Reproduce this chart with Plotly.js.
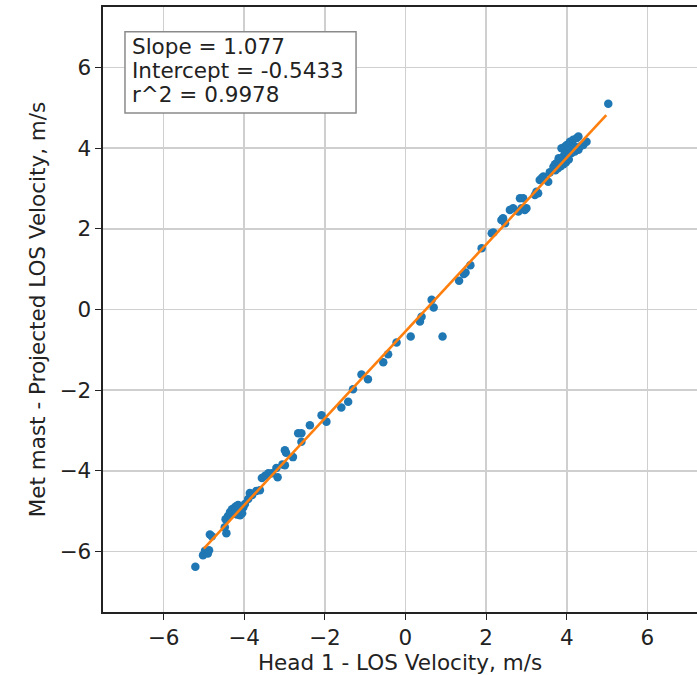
<!DOCTYPE html>
<html>
<head>
<meta charset="utf-8">
<script src="https://cdn.plot.ly/plotly-3.0.1.min.js"></script>
<style>html,body{margin:0;padding:0;background:#fff;overflow:hidden;}#plot{width:697px;height:675px;}</style>
</head>
<body>
<div id="plot"></div>
<script>
// Head 1 LOS velocity (m/s)
const headX = [
  -5.21, -5.02, -4.97, -4.87, -4.90, -4.85, -4.80, -4.46, -4.44, -4.48,
  -4.40, -4.35, -4.30, -4.25, -4.20, -4.15, -4.10, -4.05, -4.18, -4.28,
  -4.22, -4.12, -4.02, -3.98, -3.90, -3.86, -3.80, -3.70, -3.61, -3.56,
  -3.48, -3.40, -3.31, -3.17, -3.20, -3.05, -2.99, -2.99, -2.96, -2.79,
  -2.66, -2.58, -2.58, -2.37, -2.08, -1.96, -1.59, -1.42, -1.30, -1.09,
  -0.93, -0.55, -0.43, -0.22, 0.13, 0.36, 0.40, 0.65, 0.70, 0.92,
  1.33, 1.45, 1.49, 1.61, 1.89, 2.14, 2.18, 2.38, 2.42, 2.47,
  2.59, 2.67, 2.80, 2.88, 2.96, 3.00, 2.84, 2.92, 3.21, 3.25,
  3.29, 3.33, 3.38, 3.42, 3.54, 3.58, 3.67, 3.71, 3.75, 3.83,
  3.87, 3.91, 3.72, 3.78, 3.85, 3.92, 3.98, 4.05, 3.87, 3.96,
  4.00, 4.08, 4.16, 4.25, 4.29, 4.12, 4.20, 4.29, 4.33, 4.41,
  4.49, 3.95, 4.02, 4.10, 4.18, 3.80, 5.03
];
// Met mast projected LOS velocity (m/s)
const mastY = [
  -6.38, -6.09, -5.98, -5.97, -6.05, -5.58, -5.62, -5.20, -5.55, -5.40,
  -5.12, -5.02, -4.95, -4.92, -4.88, -4.85, -5.10, -5.05, -5.08, -5.05,
  -4.98, -4.96, -4.90, -4.82, -4.70, -4.55, -4.60, -4.50, -4.48, -4.18,
  -4.12, -4.06, -4.06, -4.16, -3.93, -3.84, -3.86, -3.49, -3.55, -3.66,
  -3.07, -3.07, -3.28, -2.87, -2.62, -2.78, -2.43, -2.29, -1.98, -1.61,
  -1.73, -1.31, -1.11, -0.82, -0.67, -0.30, -0.18, 0.24, 0.05, -0.67,
  0.71, 0.88, 0.92, 1.10, 1.52, 1.89, 1.91, 2.22, 2.26, 2.14,
  2.47, 2.51, 2.43, 2.51, 2.47, 2.51, 2.76, 2.76, 2.84, 2.92,
  2.88, 3.21, 3.26, 3.30, 3.17, 3.40, 3.54, 3.60, 3.63, 3.67,
  3.71, 3.79, 3.45, 3.50, 3.55, 3.60, 3.65, 3.72, 4.00, 4.04,
  4.08, 4.16, 4.21, 4.25, 4.29, 3.88, 3.92, 3.96, 4.04, 4.08,
  4.16, 3.85, 3.90, 4.00, 4.05, 3.75, 5.10
];
// Linear fit
const slope = 1.077;
const intercept = -0.5433;
const r2 = 0.9978;
const fitX = [-5.0, 4.98];
const fitY = fitX.map(v => slope * v + intercept);
const statLines = ['Slope = ' + slope, 'Intercept = ' + intercept, 'r^2 = ' + r2];

const tickVals = [-6, -4, -2, 0, 2, 4, 6];
const fnt = 'DejaVu Sans, sans-serif';
const fs = 21.5;

const traces = [
  {x: headX, y: mastY, type: 'scatter', mode: 'markers',
   marker: {color: '#1f77b4', size: 8.5}, hoverinfo: 'none'},
  {x: fitX, y: fitY, type: 'scatter', mode: 'lines',
   line: {color: '#ff7f0e', width: 2.6}, hoverinfo: 'none'}
];

const axisBase = {
  tickvals: tickVals,
  ticks: 'outside', ticklen: 6, tickwidth: 1.2, tickcolor: '#222',
  tickfont: {family: fnt, size: fs, color: '#222'},
  showgrid: true, gridcolor: '#cfcfcf', gridwidth: 1.6,
  zeroline: false, showline: true, linecolor: '#222', linewidth: 1.6
};

const lineY = [0.934, 0.895, 0.856];
const annotations = statLines.map((t, i) => ({
  xref: 'paper', yref: 'paper', x: 0.046, y: lineY[i],
  xanchor: 'left', yanchor: 'middle', align: 'left', showarrow: false,
  text: t, font: {family: fnt, size: fs, color: '#222'}
}));

const layout = {
  width: 697, height: 675,
  margin: {l: 103, r: 0, t: 7, b: 63},
  paper_bgcolor: '#fff', plot_bgcolor: '#fff',
  showlegend: false,
  font: {family: fnt, color: '#222'},
  xaxis: Object.assign({}, axisBase, {
    range: [-7.5, 7.23], mirror: true,
    title: {text: 'Head 1 - LOS Velocity, m/s', font: {family: fnt, size: fs, color: '#222'}, standoff: 4}
  }),
  yaxis: Object.assign({}, axisBase, {
    range: [-7.5, 7.5], mirror: false,
    title: {text: 'Met mast - Projected LOS Velocity, m/s', font: {family: fnt, size: fs, color: '#222'}, standoff: 8}
  }),
  shapes: [{
    type: 'rect', xref: 'paper', yref: 'paper',
    x0: 0.037, x1: 0.426, y0: 0.825, y1: 0.959,
    fillcolor: '#fff', line: {color: '#8a8a8a', width: 1.5}, layer: 'above'
  }],
  annotations: annotations
};

Plotly.newPlot('plot', traces, layout, {displayModeBar: false, staticPlot: true});
</script>
</body>
</html>
